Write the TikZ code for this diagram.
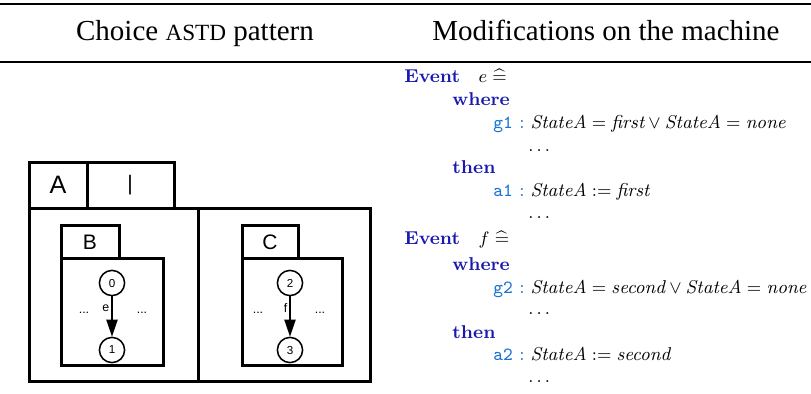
\documentclass[tikz,border=0pt]{standalone}
\usepackage{amsmath,amssymb}
\usepackage{fontspec}
\usepackage{tikz}
\usetikzlibrary{arrows.meta,positioning}
\newfontfamily\headfont{Liberation Serif}
\newfontfamily\astdfont{Liberation Sans}
\definecolor{evtblue}{RGB}{25,25,175}
\definecolor{lblblue}{RGB}{25,115,210}
\newcommand{\kw}[1]{{\color{evtblue}\bfseries #1}}
\newcommand{\lbl}[1]{{\color{lblblue}\texttt{#1}\ :}\hspace{3pt}}

\begin{document}
\begin{tikzpicture}[x=0.5pt, y=-0.5pt,
    frame/.style={draw=black, line width=1.5pt, line join=miter},
    tablbl/.style={font=\astdfont\fontsize{12.6}{14}\selectfont, inner sep=0pt},
    sublbl/.style={font=\astdfont\fontsize{10.5}{12}\selectfont, inner sep=0pt},
    state/.style={circle, draw=black, line width=0.75pt, minimum size=12.6pt, inner sep=0pt,
                  font=\astdfont\fontsize{5.8}{7}\selectfont},
    trans/.style={-{Triangle[length=8.5pt, width=5.6pt]}, line width=0.75pt},
    small/.style={font=\astdfont\fontsize{6.2}{7}\selectfont, inner sep=1pt},
    code/.style={anchor=base west, inner sep=0pt, font=\fontsize{9.3}{11}\selectfont},
    head/.style={anchor=base, inner sep=0pt, font=\headfont\fontsize{14.5}{17}\selectfont}
]
    \useasboundingbox (0,0) rectangle (811,393);

    % table rules and headings
    \draw[line width=1pt] (0,4) -- (811,4);
    \draw[line width=0.6pt] (0,62) -- (811,62);
    \node[head] (hleft)  at (195,40) {Choice {\fontsize{11.6}{14}\selectfont ASTD} pattern};
    \node[head] (hright) at (606,40) {Modifications on the machine};

    % choice ASTD
    \draw[frame] (29,162) rectangle (87,208);
    \draw[frame] (87,162) rectangle (174,208);
    \draw[frame] (29,208) rectangle (370,381);
    \draw[frame] (198,208) -- (198,381);
    \draw[frame] (61,225) rectangle (119,258);
    \draw[frame] (61,258) rectangle (163,365);
    \draw[frame] (242,225) rectangle (298,258);
    \draw[frame] (242,258) rectangle (342,365);

    \node[tablbl] (nameA) at (58,185) {A};
    \node[sublbl] (opA)   at (130,185) {|};
    \node[sublbl] (nameB) at (90,242) {B};
    \node[sublbl] (nameC) at (270,242) {C};

    \node[state] (s0) at (112,283) {0};
    \node[state] (s1) at (112,350) {1};
    \node[state] (s2) at (290,283) {2};
    \node[state] (s3) at (290,350) {3};

    \draw[trans] (s0) -- node[small, left, pos=0.3] (evE) {e} (s1);
    \draw[trans] (s2) -- node[small, left, pos=0.3] (evF) {f} (s3);

    \node[small] (dBl) at (84,313) {...};
    \node[small] (dBr) at (142,313) {...};
    \node[small] (dCl) at (258,313) {...};
    \node[small] (dCr) at (320,313) {...};

    % machine events
    \node[code] (evte)  at (404,82)  {\kw{Event}\quad $e \mathrel{\widehat{=}}$};
    \node[code] (whe)   at (452,105) {\kw{where}};
    \node[code] (grde)  at (493,128) {\lbl{g1}$\mathit{StateA} = \textit{first} \lor \mathit{StateA} = \textit{none}$};
    \node[code] (dote1) at (528,151) {$\ldots$};
    \node[code] (the)   at (452,173) {\kw{then}};
    \node[code] (acte)  at (493,196) {\lbl{a1}$\mathit{StateA} := \textit{first}$};
    \node[code] (dote2) at (528,218) {$\ldots$};

    \node[code] (evtf)  at (404,244) {\kw{Event}\quad $f \mathrel{\widehat{=}}$};
    \node[code] (whf)   at (452,270) {\kw{where}};
    \node[code] (grdf)  at (493,293) {\lbl{g2}$\mathit{StateA} = \textit{second} \lor \mathit{StateA} = \textit{none}$};
    \node[code] (dotf1) at (528,314) {$\ldots$};
    \node[code] (thf)   at (452,338) {\kw{then}};
    \node[code] (actf)  at (493,360) {\lbl{a2}$\mathit{StateA} := \textit{second}$};
    \node[code] (dotf2) at (528,382) {$\ldots$};
\end{tikzpicture}
\end{document}
